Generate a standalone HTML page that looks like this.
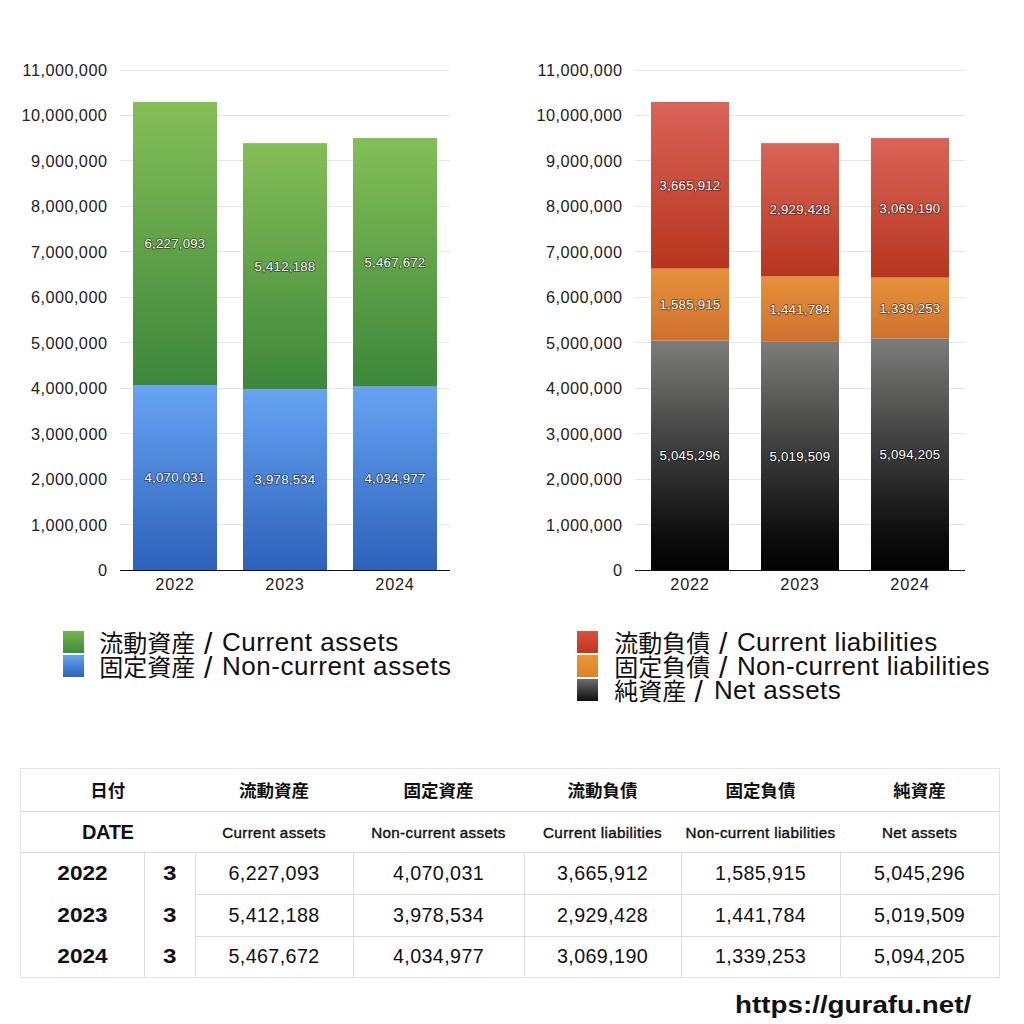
<!DOCTYPE html><html lang="ja"><head><meta charset="utf-8"><title>gurafu</title><style>
*{margin:0;padding:0;box-sizing:border-box}
html,body{width:1024px;height:1024px;background:#fff;overflow:hidden}
body{position:relative;font-family:"Liberation Sans","Noto Sans CJK JP",sans-serif;color:#111}
.ax{font-family:"Liberation Sans","Noto Sans CJK JP",sans-serif;font-size:16.3px;fill:#222;letter-spacing:0.45px}
.ax2{letter-spacing:0.8px}
.dl{font-family:"Liberation Sans","Noto Sans CJK JP",sans-serif;font-size:13.2px;fill:#fff;letter-spacing:0.25px;stroke:rgba(0,0,0,0.55);stroke-width:1.6px;paint-order:stroke;stroke-linejoin:round}
.lg{position:absolute;font-size:24px;line-height:24px;white-space:nowrap;color:#111}
.lg .j{font-family:"Noto Sans CJK JP",sans-serif;font-size:24px}
.lg .s{position:absolute;font-size:30px;top:1.8px}
.lg .l{position:absolute;font-size:26px;top:0;letter-spacing:0.4px}
.sq{position:absolute;width:21px;height:21.5px}
.hl{position:absolute;height:1px;background:#dcdcdc}
.vl{position:absolute;width:1px;background:#dcdcdc}
.o{background:#e4e4e4}
.c{position:absolute;text-align:center;white-space:nowrap;color:#111}
.h1{font-weight:bold;font-size:17.5px;padding-top:2px}
.h2{font-weight:normal;font-size:15.2px;padding-top:0.5px;letter-spacing:0.35px;-webkit-text-stroke:0.4px #111}
.yr{font-weight:bold;font-size:20.2px}
.sx{display:inline-block;transform:scaleX(1.12);transform-origin:50% 50%}
.dt{font-weight:bold;font-size:20px;letter-spacing:-0.4px;padding-top:1px}
.num{font-size:19.7px;letter-spacing:0.4px}
.url{position:absolute;left:734.5px;top:991px;font-weight:bold;font-size:24.6px;color:#111;white-space:nowrap;transform:scaleX(1.13);transform-origin:0 0}
</style></head><body>
<svg width="1024" height="600" viewBox="0 0 1024 600" style="position:absolute;left:0;top:0">
<defs>
<linearGradient id="g" x1="0" y1="0" x2="0" y2="1"><stop offset="0" stop-color="#84be56"/><stop offset="1" stop-color="#3d873b"/></linearGradient>
<linearGradient id="b" x1="0" y1="0" x2="0" y2="1"><stop offset="0" stop-color="#67a3f3"/><stop offset="1" stop-color="#2c62b9"/></linearGradient>
<linearGradient id="r" x1="0" y1="0" x2="0" y2="1"><stop offset="0" stop-color="#da6458"/><stop offset="1" stop-color="#b7351e"/></linearGradient>
<linearGradient id="o" x1="0" y1="0" x2="0" y2="1"><stop offset="0" stop-color="#e6913a"/><stop offset="1" stop-color="#cf712e"/></linearGradient>
<linearGradient id="k" x1="0" y1="0" x2="0" y2="1"><stop offset="0" stop-color="#7c7c7b"/><stop offset="0.5" stop-color="#393939"/><stop offset="0.85" stop-color="#0d0d0d"/><stop offset="1" stop-color="#030303"/></linearGradient>
</defs>
<line x1="120" x2="450" y1="524.50" y2="524.50" stroke="#e6e6e6" stroke-width="1"/>
<line x1="120" x2="450" y1="479.50" y2="479.50" stroke="#e6e6e6" stroke-width="1"/>
<line x1="120" x2="450" y1="433.50" y2="433.50" stroke="#e6e6e6" stroke-width="1"/>
<line x1="120" x2="450" y1="388.50" y2="388.50" stroke="#e6e6e6" stroke-width="1"/>
<line x1="120" x2="450" y1="342.50" y2="342.50" stroke="#e6e6e6" stroke-width="1"/>
<line x1="120" x2="450" y1="297.50" y2="297.50" stroke="#e6e6e6" stroke-width="1"/>
<line x1="120" x2="450" y1="251.50" y2="251.50" stroke="#e6e6e6" stroke-width="1"/>
<line x1="120" x2="450" y1="206.50" y2="206.50" stroke="#e6e6e6" stroke-width="1"/>
<line x1="120" x2="450" y1="160.50" y2="160.50" stroke="#e6e6e6" stroke-width="1"/>
<line x1="120" x2="450" y1="115.50" y2="115.50" stroke="#e6e6e6" stroke-width="1"/>
<line x1="120" x2="450" y1="70.50" y2="70.50" stroke="#e6e6e6" stroke-width="1"/>
<line x1="635" x2="965" y1="524.50" y2="524.50" stroke="#e6e6e6" stroke-width="1"/>
<line x1="635" x2="965" y1="479.50" y2="479.50" stroke="#e6e6e6" stroke-width="1"/>
<line x1="635" x2="965" y1="433.50" y2="433.50" stroke="#e6e6e6" stroke-width="1"/>
<line x1="635" x2="965" y1="388.50" y2="388.50" stroke="#e6e6e6" stroke-width="1"/>
<line x1="635" x2="965" y1="342.50" y2="342.50" stroke="#e6e6e6" stroke-width="1"/>
<line x1="635" x2="965" y1="297.50" y2="297.50" stroke="#e6e6e6" stroke-width="1"/>
<line x1="635" x2="965" y1="251.50" y2="251.50" stroke="#e6e6e6" stroke-width="1"/>
<line x1="635" x2="965" y1="206.50" y2="206.50" stroke="#e6e6e6" stroke-width="1"/>
<line x1="635" x2="965" y1="160.50" y2="160.50" stroke="#e6e6e6" stroke-width="1"/>
<line x1="635" x2="965" y1="115.50" y2="115.50" stroke="#e6e6e6" stroke-width="1"/>
<line x1="635" x2="965" y1="70.50" y2="70.50" stroke="#e6e6e6" stroke-width="1"/>
<rect x="133" y="385.00" width="84" height="185.00" fill="url(#b)"/>
<rect x="133" y="101.95" width="84" height="283.05" fill="url(#g)"/>
<rect x="243" y="389.16" width="84" height="180.84" fill="url(#b)"/>
<rect x="243" y="143.15" width="84" height="246.01" fill="url(#g)"/>
<rect x="353" y="386.59" width="84" height="183.41" fill="url(#b)"/>
<rect x="353" y="138.06" width="84" height="248.53" fill="url(#g)"/>
<rect x="651" y="340.67" width="78" height="229.33" fill="url(#k)"/>
<rect x="651" y="268.58" width="78" height="72.09" fill="url(#o)"/>
<rect x="651" y="101.95" width="78" height="166.63" fill="url(#r)"/>
<rect x="761" y="341.84" width="78" height="228.16" fill="url(#k)"/>
<rect x="761" y="276.30" width="78" height="65.54" fill="url(#o)"/>
<rect x="761" y="143.15" width="78" height="133.16" fill="url(#r)"/>
<rect x="871" y="338.45" width="78" height="231.55" fill="url(#k)"/>
<rect x="871" y="277.57" width="78" height="60.88" fill="url(#o)"/>
<rect x="871" y="138.06" width="78" height="139.51" fill="url(#r)"/>
<line x1="120" x2="450" y1="570.5" y2="570.5" stroke="#111" stroke-width="1"/>
<line x1="635" x2="965" y1="570.5" y2="570.5" stroke="#111" stroke-width="1"/>
<text x="107.4" y="576.00" class="ax" text-anchor="end">0</text>
<text x="107.4" y="530.55" class="ax" text-anchor="end">1,000,000</text>
<text x="107.4" y="485.09" class="ax" text-anchor="end">2,000,000</text>
<text x="107.4" y="439.64" class="ax" text-anchor="end">3,000,000</text>
<text x="107.4" y="394.18" class="ax" text-anchor="end">4,000,000</text>
<text x="107.4" y="348.73" class="ax" text-anchor="end">5,000,000</text>
<text x="107.4" y="303.27" class="ax" text-anchor="end">6,000,000</text>
<text x="107.4" y="257.82" class="ax" text-anchor="end">7,000,000</text>
<text x="107.4" y="212.36" class="ax" text-anchor="end">8,000,000</text>
<text x="107.4" y="166.91" class="ax" text-anchor="end">9,000,000</text>
<text x="107.4" y="121.45" class="ax" text-anchor="end">10,000,000</text>
<text x="107.4" y="76.00" class="ax" text-anchor="end">11,000,000</text>
<text x="175" y="590" class="ax ax2" text-anchor="middle">2022</text>
<text x="285" y="590" class="ax ax2" text-anchor="middle">2023</text>
<text x="395" y="590" class="ax ax2" text-anchor="middle">2024</text>
<text x="622.4" y="576.00" class="ax" text-anchor="end">0</text>
<text x="622.4" y="530.55" class="ax" text-anchor="end">1,000,000</text>
<text x="622.4" y="485.09" class="ax" text-anchor="end">2,000,000</text>
<text x="622.4" y="439.64" class="ax" text-anchor="end">3,000,000</text>
<text x="622.4" y="394.18" class="ax" text-anchor="end">4,000,000</text>
<text x="622.4" y="348.73" class="ax" text-anchor="end">5,000,000</text>
<text x="622.4" y="303.27" class="ax" text-anchor="end">6,000,000</text>
<text x="622.4" y="257.82" class="ax" text-anchor="end">7,000,000</text>
<text x="622.4" y="212.36" class="ax" text-anchor="end">8,000,000</text>
<text x="622.4" y="166.91" class="ax" text-anchor="end">9,000,000</text>
<text x="622.4" y="121.45" class="ax" text-anchor="end">10,000,000</text>
<text x="622.4" y="76.00" class="ax" text-anchor="end">11,000,000</text>
<text x="690" y="590" class="ax ax2" text-anchor="middle">2022</text>
<text x="800" y="590" class="ax ax2" text-anchor="middle">2023</text>
<text x="910" y="590" class="ax ax2" text-anchor="middle">2024</text>
<text x="175.0" y="482.20" class="dl" text-anchor="middle">4,070,031</text>
<text x="175.0" y="248.17" class="dl" text-anchor="middle">6,227,093</text>
<text x="285.0" y="484.28" class="dl" text-anchor="middle">3,978,534</text>
<text x="285.0" y="270.85" class="dl" text-anchor="middle">5,412,188</text>
<text x="395.0" y="483.00" class="dl" text-anchor="middle">4,034,977</text>
<text x="395.0" y="267.03" class="dl" text-anchor="middle">5,467,672</text>
<text x="690.0" y="460.03" class="dl" text-anchor="middle">5,045,296</text>
<text x="690.0" y="309.32" class="dl" text-anchor="middle">1,585,915</text>
<text x="690.0" y="189.97" class="dl" text-anchor="middle">3,665,912</text>
<text x="800.0" y="460.62" class="dl" text-anchor="middle">5,019,509</text>
<text x="800.0" y="313.77" class="dl" text-anchor="middle">1,441,784</text>
<text x="800.0" y="214.43" class="dl" text-anchor="middle">2,929,428</text>
<text x="910.0" y="458.92" class="dl" text-anchor="middle">5,094,205</text>
<text x="910.0" y="312.71" class="dl" text-anchor="middle">1,339,253</text>
<text x="910.0" y="212.52" class="dl" text-anchor="middle">3,069,190</text>
</svg>
<div class="sq" style="left:63px;top:631.3px;background:linear-gradient(#76b64e,#3e893a)"></div>
<div class="lg" style="left:99.3px;top:630px"><span class="j">流動資産</span><span class="s" style="left:104.6px"> / </span><span class="l" style="left:122.6px;letter-spacing:0.56px">Current assets</span></div>
<div class="sq" style="left:63px;top:655.3px;background:linear-gradient(#67a3f3,#2c62b9)"></div>
<div class="lg" style="left:99.3px;top:654px"><span class="j">固定資産</span><span class="s" style="left:104.6px"> / </span><span class="l" style="left:122.6px;letter-spacing:0.56px">Non-current assets</span></div>
<div class="sq" style="left:577px;top:631.3px;background:linear-gradient(#d8513f,#c0381f)"></div>
<div class="lg" style="left:614.3px;top:630px"><span class="j">流動負債</span><span class="s" style="left:104.6px"> / </span><span class="l" style="left:122.6px;letter-spacing:0.45px">Current liabilities</span></div>
<div class="sq" style="left:577px;top:655.3px;background:linear-gradient(#eb9535,#de8128)"></div>
<div class="lg" style="left:614.3px;top:654px"><span class="j">固定負債</span><span class="s" style="left:104.6px"> / </span><span class="l" style="left:122.6px;letter-spacing:0.45px">Non-current liabilities</span></div>
<div class="sq" style="left:577px;top:679.3px;background:linear-gradient(#6e6e6e,#0e0e0e)"></div>
<div class="lg" style="left:614.3px;top:678px"><span class="j">純資産</span><span class="s" style="left:80.3px"> / </span><span class="l" style="left:99.6px;letter-spacing:0.45px">Net assets</span></div>
<div class="hl o" style="left:20px;width:980px;top:768px"></div>
<div class="hl" style="left:20px;width:980px;top:811px"></div>
<div class="hl" style="left:20px;width:980px;top:852px"></div>
<div class="hl" style="left:195px;width:805px;top:894px"></div>
<div class="hl" style="left:195px;width:805px;top:936px"></div>
<div class="hl o" style="left:20px;width:980px;top:977px"></div>
<div class="vl o" style="left:20px;top:768px;height:210px"></div>
<div class="vl o" style="left:999px;top:768px;height:210px"></div>
<div class="vl" style="left:144px;top:852px;height:125px"></div>
<div class="vl" style="left:195px;top:852px;height:125px"></div>
<div class="vl" style="left:353px;top:852px;height:125px"></div>
<div class="vl" style="left:524px;top:852px;height:125px"></div>
<div class="vl" style="left:681px;top:852px;height:125px"></div>
<div class="vl" style="left:840px;top:852px;height:125px"></div>
<div class="c h1" style="left:20px;width:175.5px;top:768px;height:43px;line-height:43px">日付</div>
<div class="c dt" style="left:20px;width:175.5px;top:811px;height:41px;line-height:41px">DATE</div>
<div class="c h1" style="left:195px;width:158px;top:768px;height:43px;line-height:43px">流動資産</div>
<div class="c h2" style="left:195px;width:158px;top:811px;height:41px;line-height:41px">Current assets</div>
<div class="c h1" style="left:353px;width:171px;top:768px;height:43px;line-height:43px">固定資産</div>
<div class="c h2" style="left:353px;width:171px;top:811px;height:41px;line-height:41px">Non-current assets</div>
<div class="c h1" style="left:524px;width:157px;top:768px;height:43px;line-height:43px">流動負債</div>
<div class="c h2" style="left:524px;width:157px;top:811px;height:41px;line-height:41px">Current liabilities</div>
<div class="c h1" style="left:681px;width:159px;top:768px;height:43px;line-height:43px">固定負債</div>
<div class="c h2" style="left:681px;width:159px;top:811px;height:41px;line-height:41px">Non-current liabilities</div>
<div class="c h1" style="left:840px;width:159px;top:768px;height:43px;line-height:43px">純資産</div>
<div class="c h2" style="left:840px;width:159px;top:811px;height:41px;line-height:41px">Net assets</div>
<div class="c yr" style="left:20px;width:124px;top:852px;height:42px;line-height:42px"><span class="sx">2022</span></div>
<div class="c yr" style="left:144px;width:51px;top:852px;height:42px;line-height:42px"><span class="sx" style="transform:scaleX(1.2)">3</span></div>
<div class="c num" style="left:195px;width:158px;top:852px;height:42px;line-height:42px">6,227,093</div>
<div class="c num" style="left:353px;width:171px;top:852px;height:42px;line-height:42px">4,070,031</div>
<div class="c num" style="left:524px;width:157px;top:852px;height:42px;line-height:42px">3,665,912</div>
<div class="c num" style="left:681px;width:159px;top:852px;height:42px;line-height:42px">1,585,915</div>
<div class="c num" style="left:840px;width:159px;top:852px;height:42px;line-height:42px">5,045,296</div>
<div class="c yr" style="left:20px;width:124px;top:894px;height:42px;line-height:42px"><span class="sx">2023</span></div>
<div class="c yr" style="left:144px;width:51px;top:894px;height:42px;line-height:42px"><span class="sx" style="transform:scaleX(1.2)">3</span></div>
<div class="c num" style="left:195px;width:158px;top:894px;height:42px;line-height:42px">5,412,188</div>
<div class="c num" style="left:353px;width:171px;top:894px;height:42px;line-height:42px">3,978,534</div>
<div class="c num" style="left:524px;width:157px;top:894px;height:42px;line-height:42px">2,929,428</div>
<div class="c num" style="left:681px;width:159px;top:894px;height:42px;line-height:42px">1,441,784</div>
<div class="c num" style="left:840px;width:159px;top:894px;height:42px;line-height:42px">5,019,509</div>
<div class="c yr" style="left:20px;width:124px;top:936px;height:41px;line-height:41px"><span class="sx">2024</span></div>
<div class="c yr" style="left:144px;width:51px;top:936px;height:41px;line-height:41px"><span class="sx" style="transform:scaleX(1.2)">3</span></div>
<div class="c num" style="left:195px;width:158px;top:936px;height:41px;line-height:41px">5,467,672</div>
<div class="c num" style="left:353px;width:171px;top:936px;height:41px;line-height:41px">4,034,977</div>
<div class="c num" style="left:524px;width:157px;top:936px;height:41px;line-height:41px">3,069,190</div>
<div class="c num" style="left:681px;width:159px;top:936px;height:41px;line-height:41px">1,339,253</div>
<div class="c num" style="left:840px;width:159px;top:936px;height:41px;line-height:41px">5,094,205</div>
<div class="url">https://gurafu.net/</div>
</body></html>
